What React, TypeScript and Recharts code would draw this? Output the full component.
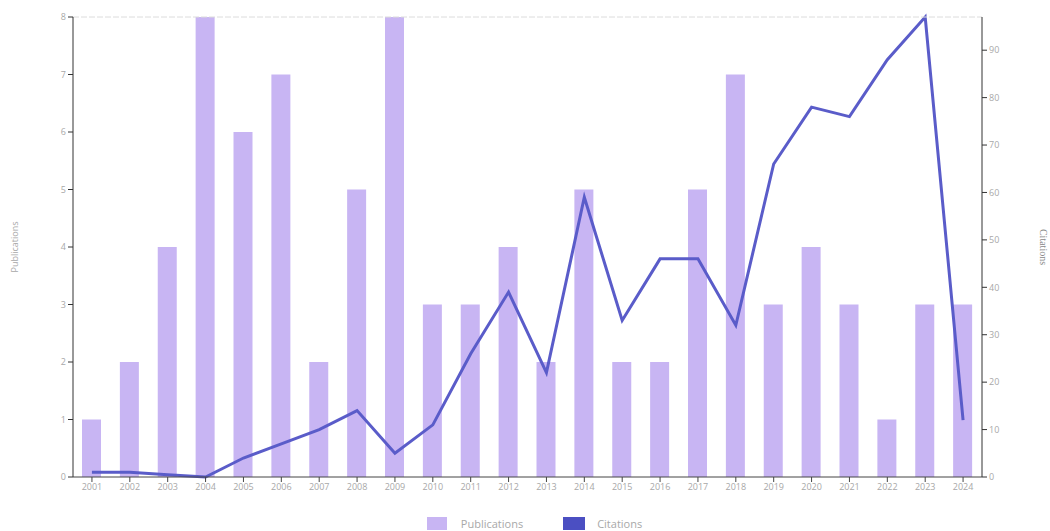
import React from 'react';
import { ComposedChart, Bar, Line, XAxis, YAxis, Legend, ReferenceLine } from 'recharts';

const years = ['2001','2002','2003','2004','2005','2006','2007','2008','2009','2010','2011','2012','2013','2014','2015','2016','2017','2018','2019','2020','2021','2022','2023','2024'];
const publications = [1,2,4,8,6,7,2,5,8,3,3,4,2,5,2,2,5,7,3,4,3,1,3,3];
const citations = [1,1,0.5,0,4,7,10,14,5,11,26,39,22,59,33,46,46,32,66,78,76,88,97,12];
const leftTicks = [0,1,2,3,4,5,6,7,8];
const rightTicks = [0,10,20,30,40,50,60,70,80,90];

const data = years.map((y, i) => ({ year: y, pubs: publications[i], cites: citations[i] }));

const BAR = '#c8b5f3';
const LINE = '#5a5cc9';
const TXT = '#a8a8a8';
const FONT = '"Open Sans", "DejaVu Sans", sans-serif';

const LegendContent = () => (
  <div style={{ display: 'flex', justifyContent: 'center', alignItems: 'center', fontFamily: FONT, fontSize: 11, color: TXT, paddingLeft: 14, paddingTop: 14 }}>
    <div style={{ display: 'flex', alignItems: 'center', marginRight: 40 }}>
      <div style={{ width: 20, height: 13, background: BAR, marginRight: 14 }} />
      <span>Publications</span>
    </div>
    <div style={{ display: 'flex', alignItems: 'center' }}>
      <div style={{ width: 22, height: 13, background: '#4b4fc2', marginRight: 12 }} />
      <span>Citations</span>
    </div>
  </div>
);

export default function App() {
  const tick = { fontSize: 9, fill: TXT, fontFamily: FONT };
  return (
    <div style={{ position: 'absolute', left: 0, top: 0, background: '#fff' }}>
      <ComposedChart width={1050} height={531} data={data} margin={{ top: 17, right: 28, left: 33, bottom: 5 }}>
        <XAxis dataKey="year" xAxisId="x" tick={tick} stroke="#444" tickLine={{ stroke: '#444' }} tickSize={5} height={25} interval={0} />
        <YAxis yAxisId="left" domain={[0, 8]} ticks={leftTicks} tick={tick} stroke="#333" tickSize={5} width={40}
          label={{ value: 'Publications', angle: -90, position: 'insideLeft', offset: -18, style: { fontSize: 9, fill: TXT, fontFamily: FONT, textAnchor: 'middle' } }} />
        <YAxis yAxisId="right" orientation="right" domain={[0, 97]} ticks={rightTicks} tick={tick} stroke="#333" tickSize={5} width={40}
          label={{ value: 'Citations', angle: 90, position: 'insideRight', offset: -22, style: { fontSize: 10, fill: '#888', fontFamily: 'serif', textAnchor: 'middle' } }} />
        <Bar xAxisId="x" yAxisId="left" dataKey="pubs" name="Publications" fill={BAR} barSize={19} isAnimationActive={false} />
        <Line xAxisId="x" yAxisId="right" type="linear" dataKey="cites" name="Citations" stroke={LINE} strokeWidth={3} dot={false} activeDot={false} isAnimationActive={false} />
        <ReferenceLine xAxisId="x" yAxisId="left" y={8} stroke="#dcdcdc" strokeDasharray="6 2" />
        <Legend verticalAlign="bottom" height={24} content={<LegendContent />} />
      </ComposedChart>
    </div>
  );
}
